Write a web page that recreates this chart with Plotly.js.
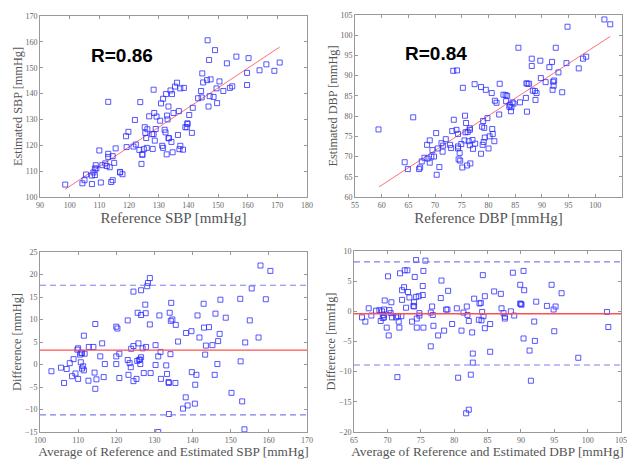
<!DOCTYPE html>
<html>
<head>
<meta charset="utf-8">
<script src="https://cdn.plot.ly/plotly-3.0.1.min.js"></script>
<style>html,body{margin:0;padding:0;background:#fff;}#chart{width:627px;height:459px;}</style>
</head>
<body>
<div id="chart"></div>
<script>
// ---- Top-left: SBP correlation ----
const sbpRef = [98.5,104.3,105,105.5,107.5,107.5,108,108.5,108.5,108.8,109,110,110.5,111,112,112.5,113,113,113,113.5,114,114.5,114.5,115,115.5,117,117,117.8,119,119.2,119.8,121.5,122,122.3,123.5,123.8,124.2,124.5,124.5,125,125.3,125.5,125.8,126,126.2,126.8,127.8,128,128.3,128.3,128.5,128.7,129,129.3,130.5,130.8,131.2,131.5,131.5,132,132.3,132.5,132.7,132.8,133,133.3,133.3,133.5,134,134.3,134.5,134.7,135,135.5,136.2,136.5,136.8,137,137.3,137.3,138.2,138.5,139,139.5,139.7,139.7,140.3,141.2,141.5,143.3,144.3,144.5,144.7,145,146.3,146.5,146.8,147,147.2,147.5,148.5,149,149.5,149.7,150.5,151.8,153,154,154.8,156.2,159.8,159.8,160.3,164,166.3,169,170.8];
const sbpEst = [104.8,105.3,106.5,108.7,105,108.3,109.5,111,108.5,112.3,111,118,105.6,112.3,113,112,116.7,115.5,136.8,111.5,105.8,106.5,115.8,113.2,118.8,109.5,109.7,108.8,123.5,119.3,125.2,119.5,129.8,120.3,118.2,136.7,112.8,116.5,116.3,118.5,127,124.8,122.8,119,126.2,131.2,124.3,118.6,124.3,141.5,132.5,121.8,126.3,131.1,129.5,136.2,119.8,138,119,126,125,139.8,116.5,131.5,130,135,122.8,122.7,141.2,121.3,139.8,117.3,132.5,142.7,144.2,124,133.2,118.5,142,119.8,118.3,142.2,127,127,128.5,128.2,131.7,124.8,134.5,138.2,141,138.5,147.8,144.3,145.2,160.6,135,153,139,145.5,138.7,156.8,142,136.3,144.7,141,151.7,142.2,142.8,154.3,143.3,148,153.7,149,151.3,148.8,152];
const sbpFitX = [98.5, 170.8];
const sbpFitY = [103, 158];
const sbpR = "R=0.86";

// ---- Top-right: DBP correlation ----
const dbpRef = [59.4,64.3,64.9,65.9,67,67.2,67.5,68,68.5,68.6,69,69,69.3,69.5,69.8,70.2,70.3,70.5,70.8,71.2,71.4,71.5,72,72.8,73,73.2,73.4,73.5,74,74.1,74.3,74.3,74.3,74.4,74.6,74.7,74.9,75.1,75.2,75.5,75.6,75.7,75.8,76,76.1,76.3,76.5,76.5,76.5,76.6,77,77.1,77.4,77.5,78.6,78.6,78.8,78.9,79,79.1,79.2,79.3,79.5,79.8,80,80.2,80.6,80.7,80.8,81.1,81.2,81.5,82,82.1,82.8,83.2,83.3,83.5,83.9,84,84.2,84.3,84.5,84.7,85.6,85.9,87,87.1,87.2,87.3,87.6,88.1,88.1,88.3,88.7,88.8,89,89.7,89.8,90.7,91.4,91.9,92,92.1,92.2,92.3,92.6,93.1,93.8,94.6,94.8,96.9,97.7,98.3,101.7,102.8];
const dbpEst = [76.7,68.6,66.9,79.7,66.9,67.3,68.8,69.7,72.9,69.5,74,68.5,70,71.6,70,75.8,65.5,72,67.4,73.3,71.2,72.7,74.3,72.9,72.1,76.3,91.2,79.1,76.6,91.3,75.6,72.5,72,69.3,70.9,69,73.1,67.3,87,74,80.1,76,78.3,67.8,76.1,73.8,76.6,77,72.8,68.3,74.1,71.9,87.9,73.2,87.2,70.7,77.4,72.9,78.8,73.6,77.1,74.7,86.5,79.5,72,75,85.7,76.8,75.6,73.8,83.8,83.3,80.4,88,85.3,85.2,83.7,85,82.3,82.8,81.2,82.2,83.4,83.1,96.9,83.4,84.5,88.1,81.1,88,88,94.2,92.4,86.3,86.2,84,85.7,93.7,89.4,88.4,92.1,93.4,86.5,88.5,87.5,88.8,96.9,90.8,85.9,93.1,102.1,91.8,94.2,94.7,103.9,102.7];
const dbpFitX = [59.5, 102.8];
const dbpFitY = [62.5, 99.7];
const dbpR = "R=0.84";

// ---- Bottom-left: SBP Bland-Altman ----
const sbpAvg = [103,105.5,106.3,107,107.8,108.4,108.8,109.3,109.8,110,110,110.5,110.7,110.8,111,111,111.3,111.5,111.5,111.7,112.7,112.8,114,114.3,114.5,114.5,114.8,115.8,116.3,116.7,117,120,120,120,120.3,120.8,120.8,123,123,123.2,123.5,123.8,123.9,124.5,124.5,124.5,125.3,125.5,125.6,125.8,126,126.2,126.3,126.5,126.5,126.5,126.9,127.2,127.6,127.7,127.8,128.1,128.3,128.8,128.8,129,130.3,130.3,131,131,131.3,131.6,131.7,133.1,133.3,133.7,133.8,133.8,134,134.2,134.3,134.4,134.7,135.5,135.6,136.2,137.5,138.2,138.3,138.7,139.7,139.8,140.6,140.7,141,141.3,141.8,142.9,143,143.3,143.5,144.3,145.2,145.8,146,146.5,146.7,147.1,147.3,148.7,150.2,152.5,152.6,153,153.6,153.8,155,155.5,157.3,157.8,159.2,160.4];
const sbpDiff = [-1.5,-0.7,-4.1,-1,0.3,-2.6,1.2,-2,3.3,3.6,-3.2,2.2,0.5,2.6,2.5,-0.9,-0.4,-1.3,6.4,2.4,-3.6,3.9,3.9,-1.8,9,-5.4,-3.3,1.8,4.7,-2.8,0.1,0.1,1.8,8.4,8,2.4,-3,9.8,1,-2.3,0.3,-0.6,3.5,4.1,-3.7,16.2,-3.2,0.8,11.5,4.7,1,1.1,0.1,1.6,16.5,11,3.6,-1.9,13.3,11.4,3.9,17.4,18.1,19.2,8.9,-1.9,4.3,-0.1,-15,1.8,10.9,2.8,-3.2,-0.2,-2.1,-3.9,-4.1,-11,11.5,2.3,9.7,13.7,10,-4.1,8.8,5.1,-9.8,-7.3,7,-9.1,7.4,-1.7,-8.7,-4.5,-2.3,10.9,6,13.5,8.2,2.2,4.2,8.3,4.3,-2.3,11.3,0.1,5.2,6.8,14.4,10.4,-6.3,14.6,0.7,-8.2,-14.4,4.9,9.8,16.9,6,22,14.5,20.8];
const sbpStats = [3.2, 17.6, -11.2]; // mean, upper LoA, lower LoA

// ---- Bottom-right: DBP Bland-Altman ----
const dbpAvg = [66.2,66.7,67.2,67.6,68.3,68.8,69,69.2,69.3,69.4,69.5,69.5,69.6,69.9,70.1,70.2,70.3,70.5,70.6,70.7,71.3,71.5,71.6,71.7,71.8,71.9,72.1,72.2,72.2,72.5,72.6,72.8,73,73.1,73.3,73.7,73.9,74,74,74.1,74.3,74.3,74.4,74.4,74.7,74.8,74.8,75.3,75.3,75.4,75.4,75.7,76.5,76.5,76.7,76.8,76.9,77.6,78,78.1,78.5,78.8,79,79.1,79.7,80.4,80.6,81.1,81.4,81.8,81.9,82,82.2,82.2,82.5,82.7,82.8,82.8,83,83.7,83.8,84,84.1,84.2,84.3,84.4,84.6,84.6,85.4,85.4,86,87,87.1,87.4,87.6,87.6,88.5,88.8,89,89.9,89.9,90,90.1,90.4,90.4,90.5,91.3,91.5,92,92.1,92.3,93.9,94.6,94.9,95,95.2,96.1,98.6,102.9,103.1];
const dbpDiff = [-1,-1.7,0.5,-0.7,0.1,0.2,-1.6,0,-1.1,-0.6,0.3,-1,1.8,-2.7,5.8,-4,0.2,-0.3,1.5,-1,-1,-10.9,-0.8,-1.7,-2.7,6.3,-0.8,3.5,1.9,4,6.8,0.6,6.8,3.2,2.3,-1.7,0.9,1.5,0.8,5.7,8.5,2.4,-1.2,-2.7,2.5,-0.7,-0.3,4.2,2.7,6.7,-2.7,8.4,-0.2,-5.8,0.8,-0.6,-2.4,-4,2.2,5.1,-3.2,0.3,0.3,3.4,-2.1,0.5,-11,-3.2,-0.2,-16.9,0.8,-0.6,-1.6,-16.3,-10.5,-3.5,-8.5,-7,2.1,-1.4,1.3,1.4,-1.5,-0.1,6,-0.8,2.5,-2.8,-2.1,-6.7,3.3,2.9,0.5,-0.3,-1.2,-0.9,0,6.4,-0.7,4.4,1.3,1.2,1.1,6.7,-4.5,3.5,-6.5,-11.5,-1.7,-4.9,1.6,0.9,4.4,0.3,-3.3,0.8,3,-7.7,-0.1,-2.6];
const dbpStats = [-0.4, 8.2, -8.9];

// ---- Axis titles ----
const xTitles = ["Reference SBP [mmHg]", "Reference DBP [mmHg]", "Average of Reference and Estimated SBP [mmHg]", "Average of Reference and Estimated DBP [mmHg]"];
const yTitles = ["Estimated SBP [mmHg]", "Estimated DBP [mmHg]", "Difference [mmHg]", "Difference [mmHg]"];

const W = 627, H = 459;
const markerStyle = {symbol: 'square-open', size: 5, color: 'rgba(45,45,255,0.8)', line: {width: 1}};
function sc(x, y, xa, ya) {
  return {x: x, y: y, xaxis: xa, yaxis: ya, type: 'scatter', mode: 'markers', marker: markerStyle, hoverinfo: 'skip', showlegend: false};
}
function fit(x, y, xa, ya) {
  return {x: x, y: y, xaxis: xa, yaxis: ya, type: 'scatter', mode: 'lines', line: {color: '#ff7070', width: 1}, hoverinfo: 'skip', showlegend: false};
}
const data = [
  fit(sbpFitX, sbpFitY, 'x', 'y'), sc(sbpRef, sbpEst, 'x', 'y'),
  fit(dbpFitX, dbpFitY, 'x2', 'y2'), sc(dbpRef, dbpEst, 'x2', 'y2'),
  sc(sbpAvg, sbpDiff, 'x3', 'y3'),
  sc(dbpAvg, dbpDiff, 'x4', 'y4')
];

function px2dom(a, b, total) { return [a / total, b / total]; }
function py2dom(top, bot) { return [1 - bot / H, 1 - top / H]; }

const serif = 'Liberation Serif, Times New Roman, serif';
const tickFont = {family: serif, size: 8, color: '#666'};
function axis(dom, range, dtick, title, anchor, fsize, standoff) {
  return {domain: dom, range: range, dtick: dtick, tick0: 0, anchor: anchor, showgrid: false, zeroline: false,
    showline: true, linecolor: '#999', linewidth: 1, mirror: 'ticks', ticks: 'inside', ticklen: 3, tickcolor: '#999',
    tickfont: tickFont, title: {text: title, font: {family: serif, size: fsize, color: '#555'}, standoff: standoff}, automargin: false};
}

function baShapes(stats, xr, yr) {
  return [
    {type: 'line', xref: xr + ' domain', yref: yr, x0: 0, x1: 1, y0: stats[0], y1: stats[0], line: {color: '#ff5050', width: 1.3}},
    {type: 'line', xref: xr + ' domain', yref: yr, x0: 0, x1: 1, y0: stats[1], y1: stats[1], line: {color: '#8080ee', width: 1.1, dash: '6px,4px'}},
    {type: 'line', xref: xr + ' domain', yref: yr, x0: 0, x1: 1, y0: stats[2], y1: stats[2], line: {color: '#8080ee', width: 1.1, dash: '6px,4px'}}
  ];
}

const layout = {
  width: W, height: H, margin: {l: 0, r: 0, t: 0, b: 0}, paper_bgcolor: '#fff', plot_bgcolor: '#fff',
  showlegend: false,
  xaxis: axis(px2dom(40, 307, W), [90, 180], 10, xTitles[0], 'y', 15, 3),
  yaxis: axis(py2dom(16, 197), [100, 170], 10, yTitles[0], 'x', 12.3, 0),
  xaxis2: axis(px2dom(355, 622, W), [55, 105], 5, xTitles[1], 'y2', 15, 3),
  yaxis2: axis(py2dom(15, 197), [60, 105], 5, yTitles[1], 'x2', 12.3, 0),
  xaxis3: axis(px2dom(40, 307, W), [100, 170], 10, xTitles[2], 'y3', 13.3, 0),
  yaxis3: axis(py2dom(252, 432), [-15, 25], 5, yTitles[2], 'x3', 12.3, 0),
  xaxis4: axis(px2dom(354, 621, W), [65, 105], 5, xTitles[3], 'y4', 13.3, 0),
  yaxis4: axis(py2dom(251, 432), [-20, 10], 5, yTitles[3], 'x4', 12.3, 0),
  shapes: baShapes(sbpStats, 'x3', 'y3').concat(baShapes(dbpStats, 'x4', 'y4')),
  annotations: [
    {text: sbpR, xref: 'x', yref: 'y', x: 117.6, y: 154.9, showarrow: false, font: {family: 'Liberation Sans, Arial, sans-serif', size: 19, color: '#000', weight: 'bold'}},
    {text: dbpR, xref: 'x2', yref: 'y2', x: 70.2, y: 95.4, showarrow: false, font: {family: 'Liberation Sans, Arial, sans-serif', size: 19, color: '#000', weight: 'bold'}}
  ]
};

Plotly.newPlot('chart', data, layout, {staticPlot: true, displayModeBar: false});
</script>
</body>
</html>
